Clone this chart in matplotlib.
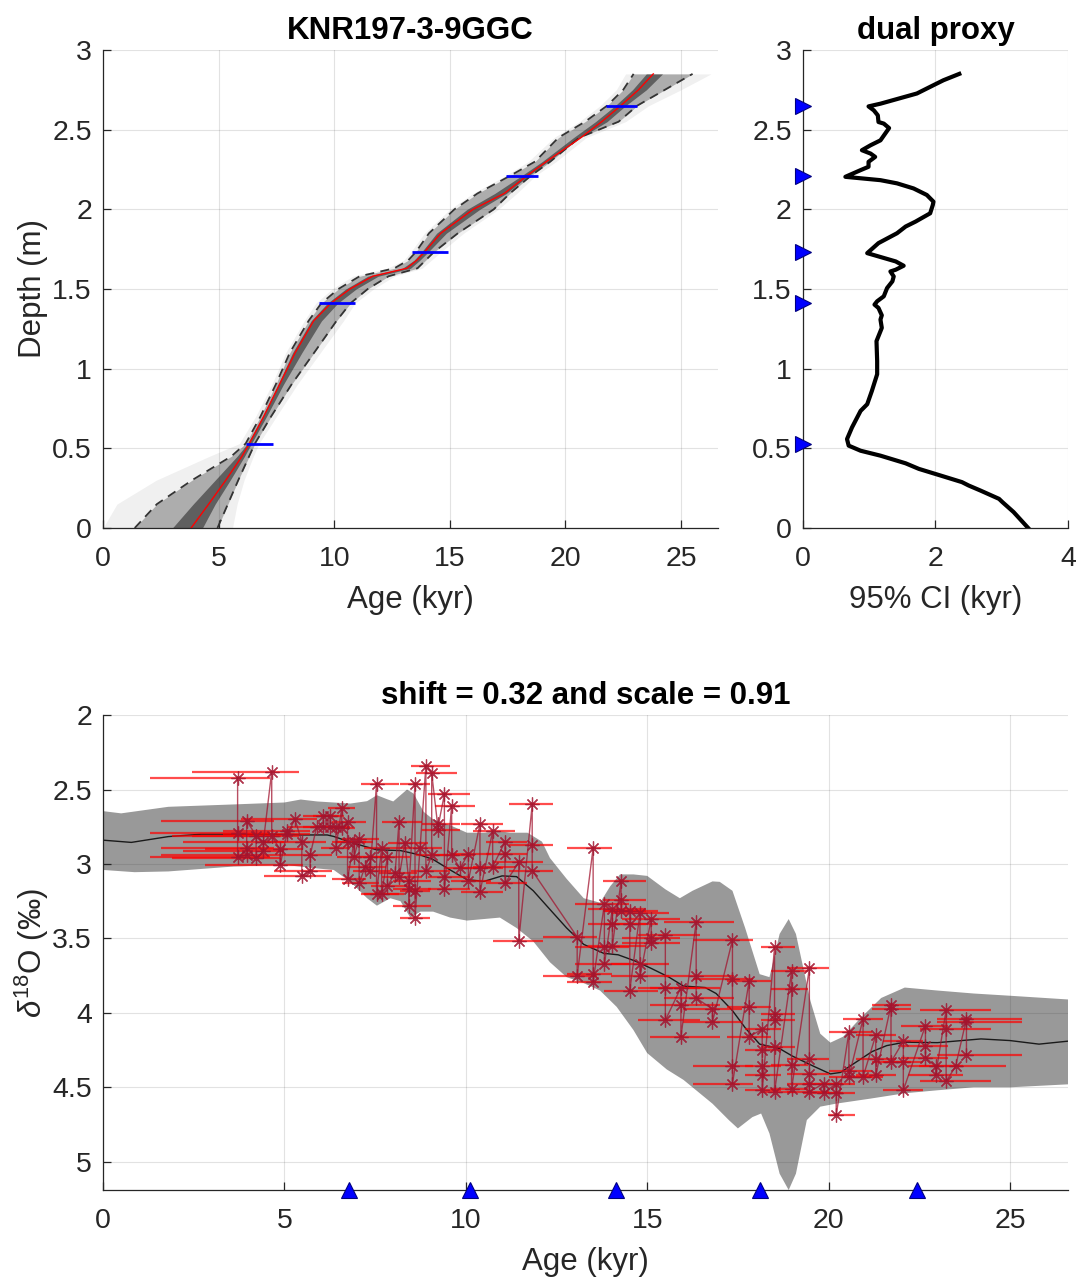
import numpy as np
import matplotlib.pyplot as plt
from matplotlib.ticker import FuncFormatter

plt.rcParams['font.family'] = ['Liberation Sans', 'DejaVu Sans']
plt.rcParams['mathtext.fontset'] = 'custom'
plt.rcParams['mathtext.rm'] = 'Liberation Sans'
plt.rcParams['mathtext.it'] = 'Liberation Sans:italic'

# ---------------- age-depth model (KNR197-3-9GGC) ----------------
depth = [0, 0.15, 0.3, 0.45, 0.53, 0.7, 0.9, 1.1, 1.3, 1.41, 1.5, 1.58, 1.63,
         1.68, 1.73, 1.85, 2.0, 2.1, 2.21, 2.3, 2.45, 2.55, 2.65, 2.75, 2.85]
age_median = [3.81, 4.57, 5.31, 6.01, 6.33, 6.95, 7.63, 8.31, 9.11, 9.85, 10.68, 11.66, 13.14,
              13.57, 13.89, 14.61, 16.01, 17.36, 18.33, 19.18, 20.67, 21.57, 22.39, 23.16, 23.8]
age_q025 = [1.37, 2.33, 3.85, 5.55, 6.17, 6.81, 7.47, 8.08, 8.89, 9.44, 10.18, 11.1, 12.6,
            13.2, 13.52, 14.1, 15.2, 16.2, 17.6, 18.69, 19.7, 20.85, 21.8, 22.5, 22.95]
age_q975 = [4.95, 5.40, 5.85, 6.32, 6.57, 7.27, 8.15, 9.13, 10.1, 10.7, 11.45, 12.35, 13.6,
            13.95, 14.3, 15.35, 16.9, 17.6, 18.5, 19.35, 20.6, 22.3, 23.1, 24.3, 25.5]
age_q25 = [3.0, 3.9, 4.85, 5.8, 6.25, 6.9, 7.57, 8.2, 9.0, 9.7, 10.5, 11.45, 12.95,
           13.45, 13.77, 14.43, 15.75, 16.95, 18.1, 19.0, 20.35, 21.3, 22.15, 22.9, 23.5]
age_q75 = [4.3, 4.85, 5.5, 6.12, 6.42, 7.07, 7.8, 8.6, 9.45, 10.15, 10.95, 11.9, 13.3,
           13.7, 14.05, 14.85, 16.3, 17.45, 18.4, 19.25, 20.65, 21.8, 22.6, 23.5, 24.2]
age_min = [0.0, 0.6, 2.3, 4.6, 5.9, 6.6, 7.3, 7.9, 8.7, 9.2, 9.9, 10.8, 12.3,
           13.0, 13.3, 13.9, 15.0, 16.0, 17.4, 18.4, 19.5, 20.6, 21.5, 22.2, 22.6]
age_max = [5.6, 5.8, 6.1, 6.5, 6.75, 7.5, 8.4, 9.4, 10.4, 10.9, 11.7, 12.6, 13.8,
           14.2, 14.6, 15.6, 17.1, 17.9, 18.7, 19.6, 20.9, 22.6, 23.6, 25.0, 26.3]

# radiocarbon dates
date_depth = [0.53, 1.41, 1.73, 2.21, 2.65]
date_age = [6.78, 10.12, 14.15, 18.12, 22.43]
date_err = [0.58, 0.79, 0.79, 0.70, 0.66]

# ---------------- 95% CI width of the dual-proxy model ----------------
ci_width = [3.40, 3.18, 3.01, 2.96, 2.68, 2.50, 2.40, 2.08, 1.75, 1.55, 1.17, 0.87, 0.69,
            0.665, 0.74, 0.87, 0.97, 1.04, 1.12, 1.12, 1.11, 1.17, 1.19, 1.17, 1.19, 1.14,
            1.08, 1.12, 1.22, 1.27, 1.35, 1.37, 1.32, 1.40, 1.52, 1.40, 0.97, 1.14, 1.42,
            1.55, 1.70, 1.92, 1.96, 1.97, 1.87, 1.67, 1.42, 1.17, 0.64, 0.87, 0.99, 0.99,
            1.09, 1.02, 0.89, 1.02, 1.17, 1.30, 1.22, 1.14, 1.13, 1.07, 0.99, 1.17, 1.72,
            1.97, 2.12, 2.36]
ci_depth = [0.0, 0.10, 0.163, 0.183, 0.235, 0.267, 0.288, 0.329, 0.371, 0.406, 0.454, 0.485, 0.517,
            0.558, 0.631, 0.735, 0.777, 0.860, 0.965, 1.048, 1.173, 1.235, 1.256, 1.308, 1.335, 1.381,
            1.402, 1.423, 1.454, 1.506, 1.548, 1.579, 1.610, 1.621, 1.646, 1.673, 1.725, 1.788, 1.85,
            1.892, 1.923, 1.975, 2.027, 2.048, 2.090, 2.131, 2.163, 2.183, 2.204, 2.246, 2.267, 2.298,
            2.329, 2.350, 2.371, 2.402, 2.433, 2.510, 2.538, 2.548, 2.590, 2.621, 2.646, 2.663, 2.727,
            2.779, 2.810, 2.85]

# ---------------- d18O stack envelope ----------------
env_upper_age = [0, 0.5, 1.8, 3.6, 5.0, 5.45, 5.9, 6.82, 7.28, 7.55, 7.83, 8.0, 8.38, 8.56, 8.84,
                 9.1, 9.57, 10.03, 10.5, 10.94, 11.22, 11.7, 12.1, 12.32, 12.78, 13.25, 13.7,
                 13.98, 14.25, 14.62, 15.0, 15.5, 15.9, 16.25, 16.8, 17.0, 17.35, 17.7, 18.1,
                 18.37, 18.65, 18.9, 19.1, 19.5, 19.77, 20.05, 20.4, 20.9, 21.45, 22.1, 23.0,
                 24.0, 25.0, 26.6]
env_upper = [2.645, 2.66, 2.616, 2.60, 2.587, 2.567, 2.58, 2.594, 2.578, 2.538, 2.565, 2.58, 2.50,
             2.527, 2.65, 2.70, 2.74, 2.79, 2.79, 2.78, 2.79, 2.79, 2.85, 2.96, 3.10, 3.23, 3.26,
             3.15, 3.07, 3.07, 3.08, 3.17, 3.23, 3.18, 3.117, 3.12, 3.18, 3.43, 3.74,
             3.76, 3.47, 3.37, 3.47, 3.92, 4.14, 4.20, 4.16, 4.03, 3.90, 3.83, 3.85,
             3.87, 3.885, 3.91]
env_lower_age = [0, 0.87, 1.8, 3.6, 5.0, 5.9, 6.36, 6.82, 7.28, 7.55, 7.92, 8.2, 8.47, 8.75,
                 9.1, 9.57, 10.03, 10.94, 11.4, 11.86, 12.32, 12.78, 13.25, 13.7, 14.16, 14.62,
                 15.0, 15.54, 16.0, 16.8, 17.25, 17.5, 17.9, 18.14, 18.37, 18.65, 18.9, 19.1,
                 19.4, 19.77, 20.2, 21.15, 22.1, 23.0, 24.0, 25.0, 26.6]
env_lower = [3.04, 3.055, 3.05, 3.017, 3.006, 3.03, 3.04, 3.12, 3.23, 3.28, 3.23, 3.25, 3.36, 3.32,
             3.32, 3.36, 3.38, 3.36, 3.43, 3.52, 3.66, 3.76, 3.80, 3.85, 3.96, 4.115,
             4.27, 4.38, 4.45, 4.61, 4.72, 4.776, 4.70, 4.676, 4.81, 5.08, 5.19, 5.08,
             4.72, 4.63, 4.61, 4.576, 4.54, 4.52, 4.50, 4.50, 4.48]
stack_age = [0, 0.78, 1.8, 2.7, 4.5, 5.45, 6.18, 6.36, 6.9, 7.55, 8.2, 8.75, 9.1, 9.57, 10.03,
             10.5, 11.0, 11.4, 11.86, 12.3, 12.78, 13.25, 13.8, 14.2, 14.65, 15.1, 15.6, 16.0,
             16.6, 16.9, 17.35, 17.7, 18.1, 18.65, 19.0, 19.6, 20.05, 20.33, 20.7, 21.2, 21.6,
             22.1, 23.0, 24.2, 25.0, 25.8, 26.6]
stack_d18o = [2.84, 2.855, 2.816, 2.80, 2.80, 2.805, 2.805, 2.815, 2.86, 2.905, 2.91, 2.94, 2.97,
              3.04, 3.105, 3.117, 3.08, 3.085, 3.18, 3.30, 3.43, 3.54, 3.60, 3.61, 3.65, 3.70,
              3.76, 3.82, 3.83, 3.87, 3.985, 4.10, 4.21, 4.24, 4.29, 4.36, 4.41, 4.40, 4.34,
              4.26, 4.22, 4.197, 4.20, 4.175, 4.186, 4.21, 4.19]

# ---------------- benthic d18O measurements ----------------
obs_age = [3.71, 3.96, 4.22, 4.42, 4.65, 4.88, 5.08, 5.29, 5.48, 5.71, 5.89, 6.07, 6.26, 6.42,
           6.58, 6.74, 6.92, 7.06, 7.22, 7.36, 7.54, 7.68, 7.84, 8.05, 8.16, 8.32, 8.43, 8.60,
           8.74, 8.90, 9.06, 9.22, 9.41, 9.61, 9.84, 10.07, 10.39, 10.74, 11.08, 11.46, 11.83,
           13.07, 13.51, 13.82, 14.04, 14.28, 14.52, 14.80, 15.11, 15.50, 15.93, 16.35, 16.80,
           17.35, 17.81, 18.17, 18.51, 18.98, 19.47, 19.86, 20.21, 20.56, 20.95, 21.30, 21.72,
           22.06, 22.67, 22.95, 23.24, 23.50, 23.80]
obs_age_lo = [1.3, 1.6, 1.9, 2.2, 2.45, 2.8, 3.3, 3.8, 4.45, 4.7, 5.1, 5.5, 5.8, 6.0,
              6.2, 6.3, 6.45, 6.6, 6.75, 6.9, 7.1, 7.2, 7.4, 7.6, 7.7, 7.85, 8.0, 8.19,
              8.3, 8.5, 8.64, 8.8, 8.97, 9.15, 9.4, 9.6, 9.86, 10.2, 10.55, 10.76, 11.2,
              12.14, 12.78, 13.0, 13.38, 13.79, 13.8, 14.0, 14.3, 14.74, 15.07, 15.45, 16.0,
              16.27, 17.2, 17.7, 18.15, 18.41, 18.84, 19.3, 19.99, 20.0, 20.4, 20.75, 21.19,
              21.5, 22.0, 22.2, 22.52, 22.5, 22.98]
obs_age_hi = [4.6, 4.7, 4.9, 5.0, 5.4, 5.5, 5.7, 5.9, 6.15, 6.3, 6.4, 6.5, 6.65, 6.8,
              6.95, 7.25, 7.45, 7.6, 7.8, 7.95, 8.15, 8.3, 8.45, 8.65, 8.8, 8.95, 9.05, 9.01,
              9.35, 9.56, 9.75, 9.85, 10.12, 10.25, 10.5, 10.7, 11.03, 11.35, 11.7, 12.13, 12.4,
              13.61, 14.02, 14.5, 14.98, 14.98, 15.3, 15.6, 15.9, 16.45, 17.0, 17.4, 17.6,
              17.93, 18.4, 18.7, 19.07, 19.44, 20.0, 20.4, 20.73, 21.2, 21.5, 21.85, 22.27,
              22.6, 23.3, 23.7, 24.47, 24.9, 25.33]
obs_d18o = [[2.42, 2.79, 2.955], [2.94, 2.89, 2.71], [2.81, 2.96], [2.915, 2.85], [2.38, 2.815],
            [2.90, 3.01], [2.78, 2.80], [2.70], [2.85, 3.08], [3.05, 2.94], [2.75], [2.75, 2.68],
            [2.675, 2.75], [2.75, 2.89], [2.627, 2.76], [2.716, 2.85, 3.10], [2.85, 2.95],
            [2.83, 3.13], [3.02], [2.95, 3.05], [2.46, 3.20], [2.89, 3.20], [2.95, 3.15], [3.06],
            [2.716, 3.09], [2.86], [3.115, 3.28, 3.17], [2.46, 3.18, 3.36], [2.89], [2.34, 3.05],
            [2.94, 2.39], [2.73, 2.77], [2.53, 3.09, 3.17], [2.61, 2.94], [3.03], [2.93, 3.115],
            [2.73, 3.03, 3.19], [2.78, 3.02], [2.85, 2.93, 3.13], [2.99, 3.515], [2.60, 2.87, 3.045],
            [3.49, 3.75], [2.89, 3.74, 3.79], [3.27, 3.56, 3.675], [3.30, 3.40, 3.55],
            [3.115, 3.24, 3.315], [3.315, 3.40, 3.85], [3.33, 3.675, 3.755], [3.37, 3.50, 3.53],
            [3.48, 3.83, 4.05], [3.83, 3.95, 4.16], [3.39, 3.75, 3.90], [3.975, 4.06],
            [3.51, 3.77, 4.36, 4.475], [3.785, 3.96, 4.16], [4.11, 4.25, 4.36, 4.42, 4.52],
            [3.56, 4.01, 4.05, 4.23, 4.53], [3.72, 3.84, 4.35, 4.51], [3.70, 4.31, 4.41, 4.475, 4.53],
            [4.475, 4.54], [4.475, 4.54, 4.687], [4.13, 4.39, 4.43], [4.04, 4.43], [4.15, 4.31, 4.42],
            [3.95, 3.975, 4.33], [4.19, 4.33, 4.52], [4.085, 4.22, 4.30], [4.36, 4.42],
            [3.98, 4.11, 4.46], [4.36], [4.04, 4.06, 4.285]]

shift_value = 0.32
scale_value = 0.91

# ---------------- figure ----------------
AX_COLOR = '#262626'
TICK_FS = 20.5
LABEL_FS = 22.5
DATA_COLOR = '#a2142f'
asterisk = (8, 2, 0)

fig = plt.figure(figsize=(10.81, 12.85), dpi=100)
ax1 = fig.add_axes([0.0953, 0.5891, 0.5689, 0.3720])
ax2 = fig.add_axes([0.7428, 0.5891, 0.2451, 0.3720])
ax3 = fig.add_axes([0.0953, 0.0739, 0.8927, 0.3696])

fmt = FuncFormatter(lambda v, p: '%g' % round(v, 3))


def style(ax):
    for s in ('top', 'right'):
        ax.spines[s].set_visible(False)
    for s in ('left', 'bottom'):
        ax.spines[s].set_color(AX_COLOR)
        ax.spines[s].set_linewidth(0.9)
    ax.tick_params(direction='in', length=6, width=0.9, colors=AX_COLOR,
                   labelsize=TICK_FS)
    ax.tick_params(axis='x', pad=13)
    ax.tick_params(axis='y', pad=8)
    ax.grid(True, color=AX_COLOR, alpha=0.13, lw=0.8)
    ax.xaxis.set_major_formatter(fmt)
    ax.yaxis.set_major_formatter(fmt)


# --- age-depth panel ---
ax1.fill_betweenx(depth, age_min, age_max, color='k', alpha=0.06, lw=0)
ax1.fill_betweenx(depth, age_q025, age_q975, color='k', alpha=0.28, lw=0)
ax1.fill_betweenx(depth, age_q25, age_q75, color='k', alpha=0.45, lw=0)
ax1.plot(age_q025, depth, color='#333333', lw=1.3, dashes=(5, 3.5))
ax1.plot(age_q975, depth, color='#333333', lw=1.3, dashes=(5, 3.5))
ax1.plot(age_median, depth, color='red', lw=1.0)
ax1.errorbar(date_age, date_depth, xerr=date_err, fmt='none', ecolor='blue',
             elinewidth=2, capsize=0, zorder=4)
ax1.set_xlim(0, 26.6)
ax1.set_ylim(0, 3)
ax1.set_xticks(np.arange(0, 26, 5))
ax1.set_yticks(np.arange(0, 3.01, 0.5))
style(ax1)
ax1.set_xlabel('Age (kyr)', fontsize=LABEL_FS, color=AX_COLOR, labelpad=9)
ax1.set_ylabel('Depth (m)', fontsize=LABEL_FS, color=AX_COLOR, labelpad=3)
ax1.set_title('KNR197-3-9GGC', fontsize=LABEL_FS, fontweight='bold', pad=8)

# --- CI panel ---
ax2.plot(ci_width, ci_depth, color='k', lw=3, solid_joinstyle='round')
ax2.plot([0] * len(date_depth), date_depth, linestyle='none', marker='>', ms=11,
         mfc='blue', mec='#000080', mew=0.8, clip_on=False, zorder=5)
ax2.set_xlim(0, 4)
ax2.set_ylim(0, 3)
ax2.set_xticks([0, 2, 4])
ax2.set_yticks(np.arange(0, 3.01, 0.5))
style(ax2)
ax2.set_xlabel('95% CI (kyr)', fontsize=LABEL_FS, color=AX_COLOR, labelpad=9)
ax2.set_title('dual proxy', fontsize=LABEL_FS, fontweight='bold', pad=8)

# --- d18O panel ---
env_x = list(env_upper_age) + list(env_lower_age[::-1])
env_y = list(env_upper) + list(env_lower[::-1])
ax3.fill(env_x, env_y, color='#999999', lw=0, zorder=1)
ax3.plot(stack_age, stack_d18o, color='#1a1a1a', lw=1.0, zorder=2)

xs, ys, xlo, xhi = [], [], [], []
for a, lo, hi, vals in zip(obs_age, obs_age_lo, obs_age_hi, obs_d18o):
    for v in vals:
        xs.append(a)
        ys.append(v)
        xlo.append(lo)
        xhi.append(hi)
ax3.hlines(ys, xlo, xhi, colors='red', alpha=0.7, lw=1.6, zorder=3)
ax3.plot(xs, ys, color=DATA_COLOR, lw=1.0, alpha=0.75, zorder=4)
ax3.plot(xs, ys, linestyle='none', marker=asterisk, ms=10, mec=DATA_COLOR, mew=0.9,
         alpha=0.85, zorder=5)

ymax_bottom = 5.19
ax3.plot(date_age, [ymax_bottom] * len(date_age), linestyle='none', marker='^', ms=11,
         mfc='blue', mec='#000080', mew=0.8, clip_on=False, zorder=6)
ax3.set_xlim(0, 26.6)
ax3.set_ylim(ymax_bottom, 2.0)
ax3.set_xticks(np.arange(0, 26, 5))
ax3.set_yticks(np.arange(2, 5.01, 0.5))
style(ax3)
ax3.set_xlabel('Age (kyr)', fontsize=LABEL_FS, color=AX_COLOR, labelpad=9)
ax3.set_ylabel(r'$\delta^{18}$O (‰)', fontsize=LABEL_FS, color=AX_COLOR, labelpad=1)
ax3.set_title('shift = %.2f and scale = %.2f' % (shift_value, scale_value),
              fontsize=LABEL_FS, fontweight='bold', pad=8)

fig.savefig('out.png', dpi=100)
